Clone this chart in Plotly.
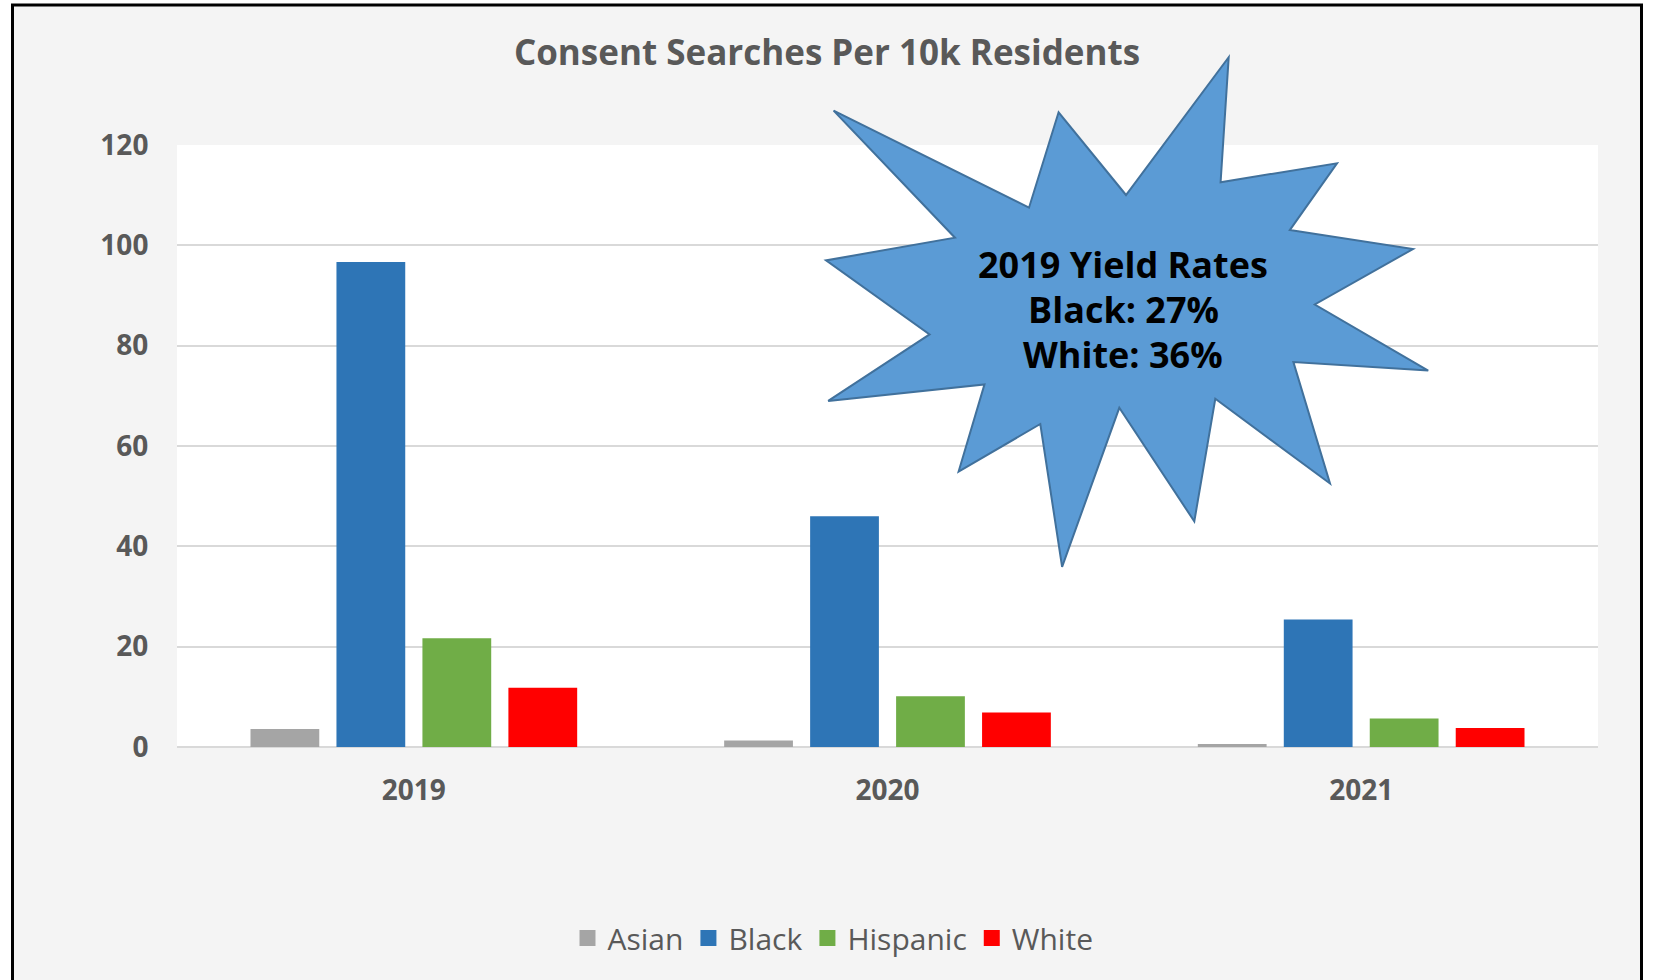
import plotly.graph_objects as go

years = ["2019", "2020", "2021"]
asian = [3.6, 1.3, 0.6]
black = [96.7, 46.0, 25.4]
hispanic = [21.7, 10.1, 5.7]
white = [11.8, 6.9, 3.8]

series_names = ["Asian", "Black", "Hispanic", "White"]
series_values = [asian, black, hispanic, white]
series_colors = ["#A5A5A5", "#2E75B6", "#70AD47", "#FF0000"]

y_ticks = [0, 20, 40, 60, 80, 100, 120]

title_text = "Consent Searches Per 10k Residents"
callout_lines = ["2019 Yield Rates", "Black: 27%", "White: 36%"]

# callout star outline (pixel positions in the 1653x980 page)
star_px = [(833.6, 110.6), (1029, 207.7), (1058.6, 112.3), (1126, 195), (1228.7, 57.2),
           (1220.6, 182.2), (1337, 163.3), (1289.8, 230.1), (1413, 249), (1314.8, 304.5),
           (1428.2, 370.6), (1293.4, 362), (1330, 483.5), (1215.3, 398.8), (1194.3, 521.4),
           (1119.3, 407.8), (1062.1, 566.9), (1040.3, 424), (958.6, 471.5), (984.5, 384.4),
           (828.2, 400.9), (929.6, 334.4), (826, 260.4), (955, 237.7)]
callout_line_y = [264, 309, 354]

W, H = 1653, 980
L, R, T, B = 177, 1598, 145, 747


def px(x):
    return (x - L) / (R - L)


def py(y):
    return (B - y) / (B - T)


fig = go.Figure()
for name, vals, col in zip(series_names, series_values, series_colors):
    fig.add_trace(go.Bar(x=years, y=vals, name=name, legendgroup=name, showlegend=False,
                         marker=dict(color=col, line=dict(width=0))))
for name, col in zip(series_names, series_colors):
    fig.add_trace(go.Scatter(x=[None], y=[None], mode="markers", name=name, legendgroup=name,
                             marker=dict(symbol="square", size=19, color=col, line=dict(width=0))))

star_path = "M " + " L ".join(f"{px(x):.5f},{py(y):.5f}" for x, y in star_px) + " Z"

shapes = [
    dict(type="rect", xref="paper", yref="paper", x0=px(12.5), x1=px(1641.5), y0=py(5), y1=py(1010),
         fillcolor="#F4F4F4", line=dict(color="black", width=3), layer="below"),
    dict(type="rect", xref="paper", yref="paper", x0=0, x1=1, y0=0, y1=1,
         fillcolor="white", line=dict(width=0), layer="below"),
    dict(type="path", xref="paper", yref="paper", path=star_path,
         fillcolor="#5B9BD5", line=dict(color="#41719C", width=2), layer="above"),
]

annotations = [
    dict(xref="paper", yref="paper", x=px(1123), y=py(yy), xanchor="center", yanchor="middle",
         text=line, showarrow=False, align="center",
         font=dict(family="Open Sans", size=36, color="black", weight="bold"))
    for line, yy in zip(callout_lines, callout_line_y)
]

fig.update_layout(
    width=W, height=H,
    margin=dict(l=L, r=W - R, t=T, b=H - B, pad=0),
    paper_bgcolor="white",
    plot_bgcolor="white",
    title=dict(text=title_text, x=px(827), xanchor="center", y=1 - 53 / H, yanchor="middle",
               xref="paper", yref="container",
               font=dict(family="Open Sans", size=35, color="#595959", weight="bold")),
    barmode="group",
    bargap=0.274,
    bargroupgap=0.2,
    showlegend=True,
    legend=dict(orientation="h", x=px(833), xanchor="center", y=py(938), yanchor="middle",
                font=dict(family="Open Sans", size=30, color="#595959"),
                bgcolor="rgba(0,0,0,0)", itemclick=False, itemsizing="trace",
                itemwidth=30),
    xaxis=dict(type="category", showgrid=False, showline=False, zeroline=False,
               ticks="outside", ticklen=18, tickcolor="rgba(0,0,0,0)",
               tickfont=dict(family="Open Sans", size=28, color="#595959", weight="bold")),
    yaxis=dict(range=[0, 120], tickvals=y_ticks, showgrid=True, gridcolor="#D9D9D9", gridwidth=1.5,
               zeroline=True, zerolinecolor="#D9D9D9", zerolinewidth=2, showline=False,
               ticks="outside", ticklen=22, tickcolor="rgba(0,0,0,0)",
               tickfont=dict(family="Open Sans", size=28, color="#595959", weight="bold")),
    shapes=shapes,
    annotations=annotations,
)

fig.write_html("out.html")
